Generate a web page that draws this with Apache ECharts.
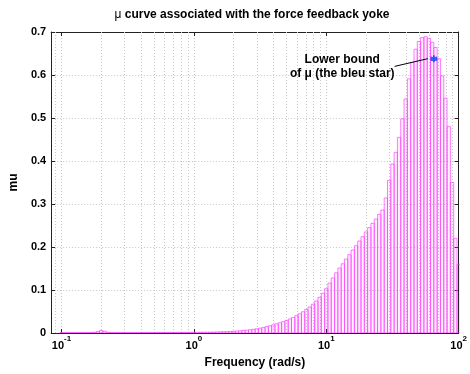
<!DOCTYPE html>
<html>
<head>
<meta charset="utf-8">
<script src="https://cdn.jsdelivr.net/npm/echarts@6/dist/echarts.min.js"></script>
<style>html,body{margin:0;padding:0;background:#fff}#c{width:470px;height:374px}</style>
</head>
<body>
<div id="c"></div>
<script>
// Frequency grid (rad/s)
const freq = [
0.1000,0.1059,0.1122,0.1189,0.1259,0.1334,0.1413,0.1496,0.1585,0.1679,
0.1778,0.1884,0.1995,0.2113,0.2239,0.2371,0.2512,0.2661,0.2818,0.2985,
0.3162,0.3350,0.3548,0.3758,0.3981,0.4217,0.4467,0.4732,0.5012,0.5309,
0.5623,0.5957,0.6310,0.6683,0.7079,0.7499,0.7943,0.8414,0.8913,0.9441,
1.000,1.059,1.122,1.189,1.259,1.334,1.413,1.496,1.585,1.679,
1.778,1.884,1.995,2.113,2.239,2.371,2.512,2.661,2.818,2.985,
3.162,3.350,3.548,3.758,3.981,4.217,4.467,4.732,5.012,5.309,
5.623,5.957,6.310,6.683,7.079,7.499,7.943,8.414,8.913,9.441,
10.00,10.59,11.22,11.89,12.59,13.34,14.13,14.96,15.85,16.79,
17.78,18.84,19.95,21.13,22.39,23.71,25.12,26.61,28.18,29.85,
31.62,33.50,35.48,37.58,39.81,42.17,44.67,47.32,50.12,53.09,
56.23,59.57,63.10,66.83,70.79,74.99,79.43,84.14,89.13,94.41,
100.0];
// mu upper bound values
const mu = [
0.0008,0.0008,0.0008,0.0009,0.0009,0.0009,0.0010,0.0010,0.0011,0.0012,
0.0016,0.0035,0.0060,0.0042,0.0018,0.0011,0.0010,0.0010,0.0010,0.0010,
0.0010,0.0010,0.0010,0.0010,0.0011,0.0011,0.0011,0.0011,0.0011,0.0012,
0.0012,0.0012,0.0012,0.0013,0.0013,0.0013,0.0014,0.0014,0.0014,0.0015,
0.0015,0.0016,0.0017,0.0018,0.0019,0.0020,0.0022,0.0024,0.0026,0.0029,
0.0032,0.0036,0.0040,0.0046,0.0052,0.0059,0.0067,0.0076,0.0086,0.0098,
0.0113,0.0129,0.0147,0.0167,0.0189,0.0212,0.0237,0.0264,0.0294,0.0326,
0.0362,0.0402,0.0446,0.0494,0.0547,0.0605,0.0670,0.0745,0.0830,0.0925,
0.1030,0.1160,0.1280,0.1400,0.1510,0.1610,0.1720,0.1820,0.1930,0.2030,
0.2140,0.2240,0.2350,0.2450,0.2550,0.2650,0.2760,0.2860,0.3140,0.3550,
0.3930,0.4200,0.4550,0.4980,0.5440,0.5910,0.6290,0.6600,0.6780,0.6870,
0.6890,0.6850,0.6760,0.6640,0.6380,0.5980,0.5460,0.4800,0.3500,0.2200,
0.1600];
// minor log grid lines
const minorGrid = [0.09,0.2,0.3,0.4,0.5,0.6,0.7,0.8,0.9,2,3,4,5,6,7,8,9,20,30,40,50,60,70,80,90];
const xMin = 0.0836, xMax = 100;
const yMin = 0, yMax = 0.7, yStep = 0.1;
const starPoint = [64.9, 0.638];
const arrowFrom = [32.8, 0.620];
const arrowTo = [58.5, 0.638];
const noteAnchor = [13.2, 0.620];
const noteLines = ['Lower bound', 'of \u03bc (the bleu star)'];
const titleMu = '\u03bc';
const titleRest = ' curve associated with the force feedback yoke';
const xName = 'Frequency (rad/s)';
const yName = 'mu';

const FONT = '"Liberation Sans", Arial, Helvetica, sans-serif';
const gridDot = {color: '#c6c6c6', width: 1, type: [1, 2]};
const axisCol = '#222';

const chart = echarts.init(document.getElementById('c'), null, {renderer: 'canvas'});
chart.setOption({
  animation: false,
  backgroundColor: '#fff',
  textStyle: {fontFamily: FONT},
  title: {
    text: '{m|' + titleMu + '}{t|' + titleRest + '}',
    left: 247, top: 4, textAlign: 'center',
    textStyle: {
      rich: {
        m: {fontSize: 12, fontWeight: 'normal', color: '#000', fontFamily: FONT},
        t: {fontSize: 12, fontWeight: 'bold', color: '#000', fontFamily: FONT}
      }
    }
  },
  grid: {left: 42, right: 7.5, top: 32, bottom: 31.5, containLabel: false},
  xAxis: [{
    type: 'log', logBase: 10, min: xMin, max: xMax, position: 'bottom',
    name: xName, nameLocation: 'middle', nameGap: 24,
    nameTextStyle: {fontSize: 12, fontWeight: 'bold', color: '#000', fontFamily: FONT},
    axisLine: {show: true, onZero: false, lineStyle: {color: axisCol, width: 1}},
    axisTick: {show: true, inside: true, length: 4, lineStyle: {color: axisCol}},
    axisLabel: {
      show: true, margin: 2, showMinLabel: false,
      formatter: function (v) {
        const e = Math.round(Math.log10(v));
        return '{b|10}{s|' + e + '}';
      },
      rich: {
        b: {fontSize: 11, fontWeight: 'bold', color: '#000', lineHeight: 16, verticalAlign: 'bottom', fontFamily: FONT},
        s: {fontSize: 8, fontWeight: 'bold', color: '#000', lineHeight: 8, verticalAlign: 'top', fontFamily: FONT}
      }
    },
    splitLine: {show: true, lineStyle: gridDot},
    minorTick: {show: false}
  }, {
    type: 'log', logBase: 10, min: xMin, max: xMax, position: 'top',
    axisLine: {show: true, onZero: false, lineStyle: {color: axisCol, width: 1}},
    axisTick: {show: true, inside: true, length: 4, lineStyle: {color: axisCol}},
    axisLabel: {show: false},
    splitLine: {show: false}
  }],
  yAxis: [{
    type: 'value', min: yMin, max: yMax, interval: yStep, position: 'left',
    name: yName, nameLocation: 'middle', nameGap: 27,
    nameTextStyle: {fontSize: 12, fontWeight: 'bold', color: '#000', fontFamily: FONT},
    axisLine: {show: true, lineStyle: {color: axisCol, width: 1}},
    axisTick: {show: true, inside: true, length: 4, lineStyle: {color: axisCol}},
    axisLabel: {
      margin: 5, fontSize: 11, fontWeight: 'bold', color: '#000', fontFamily: FONT,
      formatter: function (v) { return v === 0 ? '0' : v.toFixed(1); }
    },
    splitLine: {show: true, lineStyle: gridDot}
  }, {
    type: 'value', min: yMin, max: yMax, interval: yStep, position: 'right',
    axisLine: {show: true, lineStyle: {color: axisCol, width: 1}},
    axisTick: {show: true, inside: true, length: 4, lineStyle: {color: axisCol}},
    axisLabel: {show: false},
    splitLine: {show: false}
  }],
  series: [{
    type: 'line', xAxisIndex: 0, yAxisIndex: 0, data: [], z: 1, silent: true,
    markLine: {
      silent: true, symbol: 'none', z: 1, label: {show: false},
      lineStyle: gridDot,
      data: minorGrid.map(function (v) { return {xAxis: v}; })
    }
  }, {
    type: 'custom', xAxisIndex: 0, yAxisIndex: 0, z: 3, clip: true,
    data: freq.map(function (f, i) { return [f, mu[i]]; }),
    encode: {x: 0, y: 1},
    renderItem: function (params, api) {
      const i = params.dataIndex;
      const n = freq.length;
      const f = freq[i];
      const fl = i > 0 ? Math.sqrt(freq[i - 1] * f) : f / Math.sqrt(freq[i + 1] / f);
      const fr = i < n - 1 ? Math.sqrt(f * freq[i + 1]) : f * Math.sqrt(f / freq[i - 1]);
      const p0 = api.coord([fl, 0]);
      const p1 = api.coord([fr, api.value(1)]);
      return {
        type: 'rect',
        shape: {x: p0[0], y: p1[1], width: p1[0] - p0[0], height: p0[1] - p1[1]},
        style: {fill: 'rgba(255,0,255,0.05)', stroke: '#ff44ff', lineWidth: 0.7}
      };
    }
  }, {
    type: 'scatter', xAxisIndex: 0, yAxisIndex: 0, z: 6,
    data: [starPoint],
    symbol: 'path://M5,0L5,10M0.67,2.5L9.33,7.5M0.67,7.5L9.33,2.5M0,5L10,5',
    symbolSize: 7,
    itemStyle: {color: 'rgba(0,0,0,0)', borderColor: '#0a3cff', borderWidth: 1.8},
    markLine: {
      silent: true, symbol: ['none', 'arrow'], symbolSize: [0, 8],
      label: {show: false},
      lineStyle: {color: '#000', width: 1, type: 'solid'},
      data: [[{coord: arrowFrom}, {coord: arrowTo}]]
    },
    markPoint: {
      silent: true, symbol: 'circle', symbolSize: 0,
      data: [{coord: noteAnchor}],
      label: {
        show: true, position: 'inside', formatter: noteLines.join('\n'),
        fontSize: 12, fontWeight: 'bold', color: '#000', lineHeight: 14,
        align: 'center', fontFamily: FONT
      }
    }
  }]
});
</script>
</body>
</html>
